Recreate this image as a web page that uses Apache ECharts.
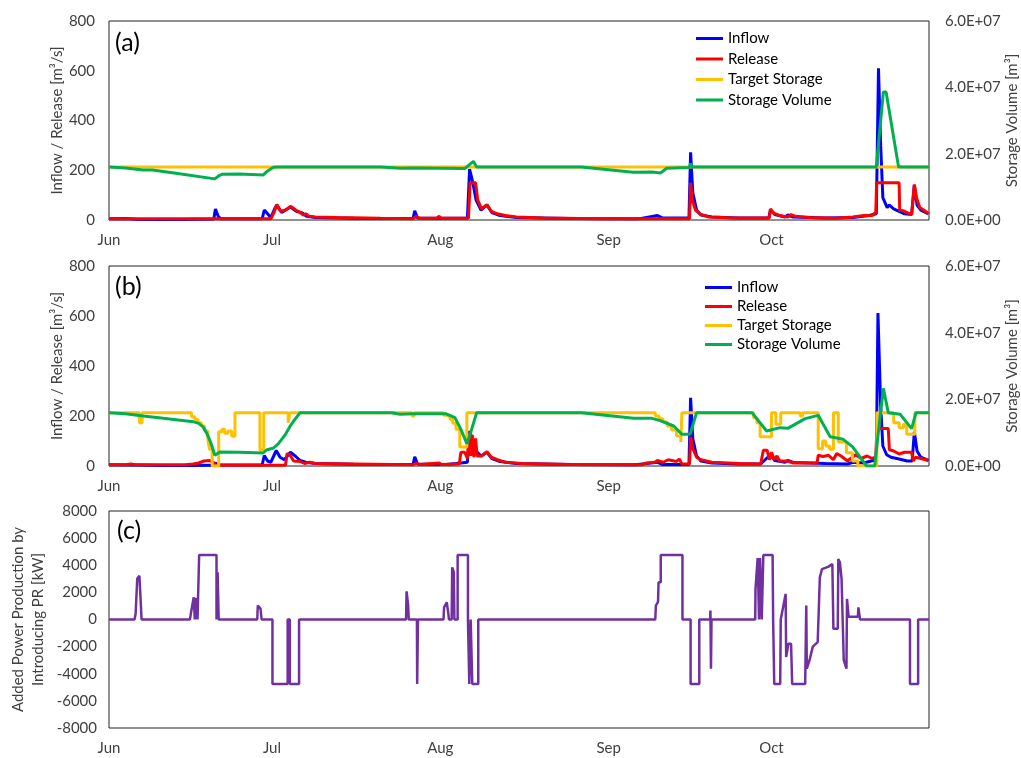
<!DOCTYPE html>
<html><head><meta charset="utf-8">
<script src="https://cdn.jsdelivr.net/npm/echarts@6/dist/echarts.min.js"></script>
<style>html,body{margin:0;padding:0;background:#fff}#c{width:1021px;height:758px}</style>
</head><body><div id="c"></div>
<script>
// x values are days since June 1
const monthTicks = [0, 30, 61, 92, 122];
const monthLabels = ['Jun', 'Jul', 'Aug', 'Sep', 'Oct'];
const flowTicks = [0, 200, 400, 600, 800];
const storageTicks = [0, 2e7, 4e7, 6e7];
const powerTicks = [-8000, -6000, -4000, -2000, 0, 2000, 4000, 6000, 8000];

// ---------- panel (a) ----------
const inflowA = [[0,5],[3,6],[5,3],[10,2],[15,3],[19.3,4],[19.6,44],[20.1,15],[20.6,5],[28.2,5],[28.6,40],[29.2,25],[29.8,10],[30.5,45],[30.9,60],[31.8,30],[33.4,52],[34.5,35],[35.6,28],[36.4,15],[38,10],[45,7],[56,6],[56.3,37],[56.8,8],[60,7],[66.0,8],[66.4,205],[67,150],[67.6,80],[68.5,40],[69.6,60],[70.5,30],[72,18],[75,10],[85,6],[97,5],[98,6],[101,18],[102,8],[106.8,8],[107.1,272],[107.5,110],[108.2,40],[109,20],[111,12],[116,8],[121.5,8],[121.8,40],[122.6,22],[124.5,12],[125,20],[126,12],[132,8],[137,10],[140,18],[141.3,25],[141.7,610],[142.1,300],[142.5,90],[143.3,50],[143.7,60],[144.5,45],[145.5,35],[146.5,25],[147.8,22],[148.3,140],[148.8,60],[149.5,40],[150.9,25]];
const releaseA = [[0,5],[19,5],[28.5,5],[29.8,5],[30.4,30],[30.9,62],[31.6,35],[32.5,40],[33.5,55],[34.4,40],[35.2,30],[35.8,20],[36.3,25],[36.8,15],[38,12],[42,10],[50,7],[56,5],[56.6,15],[57.2,7],[60.4,8],[60.8,15],[61.2,7],[66.2,7],[66.5,150],[67.5,150],[67.9,80],[68.6,45],[69.6,62],[70.4,35],[71.5,25],[73,18],[75,12],[80,8],[90,5],[106.9,5],[107.1,150],[107.4,80],[108,40],[109,22],[110.5,12],[115,8],[121.6,8],[121.8,45],[122.4,28],[123.5,18],[125,12],[125.6,22],[126.4,15],[129,10],[134,7],[137,12],[139,18],[140.5,18],[141.2,30],[141.35,150],[145.5,150],[145.6,40],[146.5,35],[147.8,22],[148.3,143],[148.7,90],[149.3,50],[150,40],[150.9,25]];
const targetA = [[0,1.6e7],[151,1.6e7]];
const storageA = [[0,1.6e7],[3,1.57e7],[6.3,1.51e7],[8,1.51e7],[12,1.42e7],[19.5,1.24e7],[20.2,1.33e7],[20.8,1.38e7],[24,1.39e7],[28.4,1.36e7],[29.2,1.48e7],[30.3,1.59e7],[31,1.6e7],[50,1.6e7],[53.6,1.56e7],[56,1.57e7],[65.5,1.55e7],[67.1,1.77e7],[67.7,1.6e7],[87,1.6e7],[96.5,1.44e7],[100,1.45e7],[101.6,1.42e7],[102.7,1.56e7],[106.8,1.58e7],[107.1,1.7e7],[107.4,1.6e7],[141.3,1.6e7],[142.6,3.86e7],[143.1,3.86e7],[145.4,1.6e7],[151,1.6e7]];

// ---------- panel (b) ----------
const inflowB = [[0,5],[5,4],[10,2],[15,2],[18,3],[19.3,3],[19.6,12],[20.2,5],[28.2,4],[28.6,42],[29.2,20],[29.8,15],[30.8,62],[31.5,35],[32.3,25],[33.4,55],[34.3,40],[35.2,22],[36.2,15],[38,10],[45,7],[56,6],[56.3,37],[56.8,8],[62,6],[64,10],[66.0,15],[66.4,140],[67,100],[67.6,60],[68.5,40],[69.6,55],[70.5,30],[72,18],[75,10],[85,6],[97,5],[101,15],[102,6],[106.8,6],[107.1,273],[107.5,110],[108.2,40],[109,20],[111,12],[116,8],[120,8],[121.8,45],[122.6,22],[124.5,15],[125,22],[126,14],[132,10],[136,8],[137,15],[139,12],[140,18],[141.3,25],[141.6,612],[142.1,240],[142.5,80],[143.2,45],[144,35],[145.5,28],[147,20],[147.9,20],[148.3,137],[148.8,60],[149.5,35],[150.9,22]];
const releaseB = [[0,5],[3,5],[4,8],[5,5],[14,5],[15.5,8],[16.5,12],[17.5,20],[18.5,22],[19.2,15],[19.6,3],[25,3],[32.5,3],[32.8,50],[33.3,45],[33.6,50],[34,20],[35.2,18],[36,10],[37,15],[38,10],[45,8],[56,5],[56.6,12],[57.2,6],[60.8,12],[61.2,6],[64.5,8],[64.8,55],[65.5,55],[66,30],[66.3,130],[66.6,40],[66.9,125],[67.2,35],[67.5,110],[67.8,40],[68.6,40],[69.6,57],[70.4,35],[71.5,25],[73,15],[76,10],[85,6],[98,5],[99,12],[100.5,15],[101,22],[102,15],[103,25],[104.5,18],[105,28],[105.5,8],[106.9,8],[107.1,117],[107.5,70],[108.2,35],[109,25],[111,15],[116,10],[120,8],[120.5,63],[121.2,63],[121.6,25],[122,55],[122.5,25],[123,40],[123.5,20],[125,20],[126,12],[130.4,12],[130.6,43],[131.5,38],[132.5,43],[133.4,25],[134,50],[134.8,40],[136,20],[137.5,45],[138.5,30],[139.6,40],[140.5,30],[141.2,35],[141.4,150],[143.5,150],[143.7,65],[144.5,60],[145.5,48],[146.5,55],[147.8,55],[148.1,20],[148.5,35],[149.5,30],[150.9,22]];
const targetB = [[0,1.6e7],[5.6,1.3e7],[6.1,1.6e7],[15.2,1.48e7],[15.8,1.4e7],[16.4,1.3e7],[17,1.2e7],[17.6,1.05e7],[18.2,8e6],[18.5,5e6],[19,0],[20.2,1.03e7],[20.8,1.1e7],[21.3,9.8e6],[21.9,1.05e7],[22.6,8.9e6],[23.2,1.6e7],[27.8,4.7e6],[28.5,1.6e7],[33,1.3e7],[33.3,1.6e7],[55.8,1.5e7],[56.2,1.6e7],[61.6,1.52e7],[62.2,1.47e7],[62.8,1.4e7],[63.3,1.28e7],[63.9,1.1e7],[64.6,5.7e6],[65.9,1.6e7],[100.6,1.5e7],[101.3,1.42e7],[102,1.32e7],[102.8,1.2e7],[103.6,1.08e7],[104.5,9e6],[105.3,7.2e6],[105.5,1.6e7],[118.7,1.45e7],[119.3,1.3e7],[119.9,8.8e6],[122,1.6e7],[122.8,1.25e7],[123.7,1.6e7],[127.3,1.5e7],[127.7,1.6e7],[130.6,5.2e6],[131.4,7.5e6],[132,6e6],[132.7,5e6],[133.4,1.6e7],[134.3,7.2e6],[135.8,4e6],[136.9,1.5e6],[137.9,0],[141.4,1.6e7],[144.5,1.3e7],[145.5,1.15e7],[146.3,1.25e7],[146.9,9.5e6],[148.4,1.6e7],[151,1.6e7]];
const storageB = [[0,1.6e7],[3,1.57e7],[6.3,1.5e7],[10,1.43e7],[15.5,1.33e7],[16.5,1.28e7],[17.3,1.18e7],[18.1,9.5e6],[18.7,7.2e6],[19.5,3.2e6],[20.4,4.2e6],[24,4.1e6],[28.4,3.9e6],[29,4.8e6],[30.3,5.4e6],[31.2,6.7e6],[32.5,9.5e6],[33.3,1.18e7],[34,1.35e7],[35.2,1.6e7],[52,1.6e7],[53.6,1.55e7],[56,1.57e7],[62,1.57e7],[63.7,1.45e7],[64.8,1.1e7],[65.9,6.7e6],[66.6,1.0e7],[67.7,1.6e7],[87,1.6e7],[96.6,1.43e7],[100,1.43e7],[101.5,1.36e7],[104,1.2e7],[105.5,9.5e6],[107,9.5e6],[108.2,1.6e7],[118.4,1.6e7],[121.1,1.05e7],[123.6,1.15e7],[125,1.13e7],[128.2,1.42e7],[130.6,1.52e7],[132.8,8.8e6],[135.2,8e6],[136.9,5.8e6],[139.5,0],[141,0],[141.8,1.2e7],[142.6,2.33e7],[143.5,1.6e7],[145.7,1.55e7],[147.8,1.12e7],[148.6,1.6e7],[151,1.6e7]];

// ---------- panel (c) ----------
const powerC = [[0,0],[4.7,0],[4.9,400],[5.2,3000],[5.6,3230],[5.9,3230],[6,0],
[14.9,0],[15.1,500],[15.6,1640],[15.8,0],[16.0,1600],[16.3,0],[16.6,0],[16.6,4750],[19.8,4750],[19.8,0],[20.0,3480],[20.2,0],
[27.3,0],[27.4,1030],[27.9,800],[28.1,0],
[30.1,0],[30.1,-4750],[32.9,-4750],[32.9,0],[33.3,0],[33.3,-4750],[35,-4750],[35,0],
[54.7,0],[54.8,2080],[55.1,1000],[55.2,0],
[56.7,0],[56.75,-4750],[56.85,-4750],[56.9,0],
[61.6,0],[61.7,900],[62.2,1270],[62.5,400],[62.6,0],[63.1,0],[63.2,3850],[63.5,3480],[63.6,0],[64.2,0],[64.2,4750],[66.1,4750],[66.1,0],[66.3,0],[66.35,-4750],[66.6,-4750],[66.6,0],[66.9,0],[66.9,-4750],[68,-4750],[68,0],
[100.6,0],[100.7,1030],[101.1,1300],[101.2,2740],[101.6,2740],[101.6,4750],[105.6,4750],[105.6,0],
[107.1,0],[107.1,-4750],[108.7,-4750],[108.7,0],
[110.7,0],[110.75,660],[110.85,-3630],[110.95,0],
[119,0],[119.05,2250],[119.4,2250],[119.45,4530],[119.7,0],[119.9,4530],[120.2,0],[120.5,0],[120.5,4750],[122.2,4750],[122.3,0],[122.5,0],[122.5,-4750],[123.6,-4750],[123.7,0],[124,0],[124.6,1890],[124.7,-2770],[125.1,-1790],[125.6,-1790],[125.8,-4750],[128.2,-4750],[128.4,1030],[128.5,-3630],[129,-3000],[129.6,-2000],[130.5,-1670],[130.9,3110],[131.3,3720],[132.5,3900],[133.2,4090],[133.4,-690],[134.2,-690],[134.3,4460],[134.6,4200],[134.9,3000],[135.3,-3000],[135.8,-3630],[135.9,1520],[136.2,200],[137.9,200],[138,900],[138.3,0],
[147.5,0],[147.5,-4750],[149,-4750],[149,0],[151,0]];

const FONT = 'Lato, "Open Sans", sans-serif';
const TXT = '#404040';
const C = {inflow:'#0000FF', release:'#FF0000', target:'#FFC000', storage:'#00B050', power:'#7030A0'};

function sci(v){
  if (v === 0) return '0.0E+00';
  const e = Math.floor(Math.log10(v) + 1e-9);
  const m = v / Math.pow(10, e);
  return m.toFixed(1) + 'E+' + String(e).padStart(2, '0');
}
function xAx(g){
  return {type:'value', gridIndex:g, min:0, max:151,
    axisLine:{show:false}, axisTick:{show:false}, splitLine:{show:false},
    axisLabel:{customValues:monthTicks, margin:13, fontSize:15, fontFamily:FONT, color:TXT,
      formatter:v=>monthLabels[monthTicks.indexOf(Math.round(v))] || ''}};
}
function yFlow(g){
  return {type:'value', gridIndex:g, min:0, max:800, interval:200, position:'left',
    name:'Inflow / Release [m³/s]', nameLocation:'middle', nameRotate:90, nameGap:44, nameMoveOverlap:false,
    nameTextStyle:{fontSize:15, fontFamily:FONT, color:TXT},
    axisLine:{show:false}, axisTick:{show:false}, splitLine:{show:false},
    axisLabel:{customValues:flowTicks, margin:14, fontSize:15, fontFamily:FONT, color:TXT}};
}
function yStor(g){
  return {type:'value', gridIndex:g, min:0, max:6e7, interval:2e7, position:'right',
    name:'Storage Volume [m³]', nameLocation:'middle', nameRotate:90, nameGap:76, nameMoveOverlap:false,
    nameTextStyle:{fontSize:15, fontFamily:FONT, color:TXT},
    axisLine:{show:false}, axisTick:{show:false}, splitLine:{show:false},
    axisLabel:{customValues:storageTicks, margin:16, fontSize:15, fontFamily:FONT, color:TXT, formatter:sci}};
}
function ln(name, data, color, xi, yi, extra){
  return Object.assign({type:'line', name, data, xAxisIndex:xi, yAxisIndex:yi,
    showSymbol:false, symbol:'none', animation:false,
    lineStyle:{color, width:3}, itemStyle:{color}}, extra||{});
}
const legendBase = {orient:'vertical', icon:'rect', itemWidth:27, itemHeight:3,
  data:['Inflow','Release','Target Storage','Storage Volume'], selectedMode:false,
  textStyle:{fontSize:15, fontFamily:FONT, color:'#000', lineHeight:15}};

const gridBase = {left:109, right:92, show:true, borderColor:'#222', borderWidth:1,
  containLabel:false, outerBoundsMode:'none'};

const chart = echarts.init(document.getElementById('c'), null, {renderer:'canvas'});
chart.setOption({
  backgroundColor:'#fff',
  animation:false,
  grid:[
    Object.assign({}, gridBase, {top:21, height:199}),
    Object.assign({}, gridBase, {top:266, height:200}),
    Object.assign({}, gridBase, {top:511, height:217})
  ],
  legend:[
    Object.assign({}, legendBase, {left:691, top:26, itemGap:5.5}),
    Object.assign({}, legendBase, {left:700, top:275, itemGap:4})
  ],
  xAxis:[xAx(0), xAx(1), xAx(2)],
  yAxis:[yFlow(0), yStor(0), yFlow(1), yStor(1),
    {type:'value', gridIndex:2, min:-8000, max:8000, interval:2000,
     name:'Added Power Production by\nIntroducing PR [kW]', nameLocation:'middle', nameRotate:90, nameGap:61, nameMoveOverlap:false,
     nameTextStyle:{fontSize:15, fontFamily:FONT, color:TXT, lineHeight:20},
     axisLine:{show:false}, axisTick:{show:false}, splitLine:{show:false},
     axisLabel:{customValues:powerTicks, margin:12, fontSize:15, fontFamily:FONT, color:TXT, formatter:v=>String(v)}}
  ],
  graphic:[
    {type:'text', left:115, top:30, style:{text:'(a)', fontSize:25, fontFamily:FONT, fill:'#000'}},
    {type:'text', left:115, top:274, style:{text:'(b)', fontSize:25, fontFamily:FONT, fill:'#000'}},
    {type:'text', left:117, top:518, style:{text:'(c)', fontSize:25, fontFamily:FONT, fill:'#000'}}
  ],
  series:[
    ln('Inflow', inflowA, C.inflow, 0, 0),
    ln('Release', releaseA, C.release, 0, 0),
    ln('Target Storage', targetA, C.target, 0, 1),
    ln('Storage Volume', storageA, C.storage, 0, 1),
    ln('Inflow', inflowB, C.inflow, 1, 2),
    ln('Release', releaseB, C.release, 1, 2),
    ln('Target Storage', targetB, C.target, 1, 3, {step:'end'}),
    ln('Storage Volume', storageB, C.storage, 1, 3),
    ln('Power', powerC, C.power, 2, 4, {lineStyle:{color:C.power, width:2.5}})
  ]
});
</script></body></html>
